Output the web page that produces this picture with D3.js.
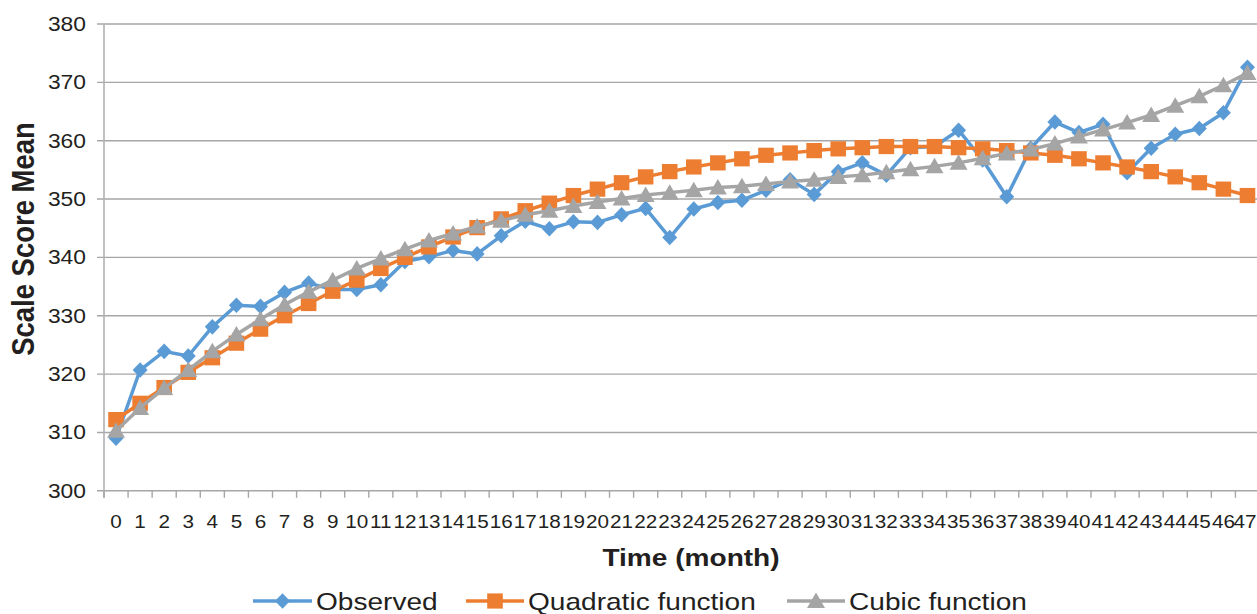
<!DOCTYPE html>
<html>
<head>
<meta charset="utf-8">
<script src="https://cdn.jsdelivr.net/npm/d3@7/dist/d3.min.js"></script>
<style>
  html, body { margin: 0; padding: 0; background: #fff; }
  svg { display: block; }
  text { font-family: "Liberation Sans", Arial, Helvetica, sans-serif; fill: #231f20; }
</style>
</head>
<body>
<svg id="chart" width="1257" height="614"></svg>
<script>
// ---- data ----
const months = [0,1,2,3,4,5,6,7,8,9,10,11,12,13,14,15,16,17,18,19,20,21,22,23,
                24,25,26,27,28,29,30,31,32,33,34,35,36,37,38,39,40,41,42,43,44,45,46,47];
const observed = [309.0,320.7,323.9,323.1,328.1,331.8,331.6,334.0,335.6,334.5,334.5,335.3,
                  339.3,340.1,341.2,340.6,343.7,346.2,344.9,346.1,346.0,347.3,348.4,343.4,
                  348.3,349.4,349.8,351.5,353.3,350.8,354.7,356.2,354.1,358.8,359.0,361.8,
                  356.7,350.4,358.7,363.2,361.4,362.8,354.5,358.7,361.1,362.1,364.8,372.6];
const quadratic = [312.2,315.0,317.7,320.3,322.8,325.3,327.7,330.0,332.1,334.2,336.1,338.1,
                   340.0,341.8,343.5,345.1,346.6,348.0,349.3,350.6,351.7,352.8,353.8,354.7,
                   355.5,356.2,356.9,357.5,357.9,358.3,358.6,358.8,359.0,359.0,359.0,358.8,
                   358.6,358.3,357.9,357.5,356.9,356.2,355.5,354.7,353.8,352.8,351.7,350.6];
const cubic = [310.3,314.2,317.6,320.7,323.9,326.8,329.4,331.9,334.1,336.1,338.1,339.8,
               341.4,342.9,344.1,345.3,346.3,347.3,348.0,348.8,349.5,350.1,350.7,351.1,
               351.5,352.0,352.2,352.6,353.0,353.3,353.8,354.1,354.6,355.1,355.6,356.2,
               357.0,357.8,358.5,359.5,360.7,361.9,363.1,364.4,366.0,367.6,369.5,371.6];
const yTicks = [300,310,320,330,340,350,360,370,380];
const seriesNames = ["Observed","Quadratic function","Cubic function"];
const axisTitleX = "Time (month)";
const axisTitleY = "Scale Score Mean";

// ---- layout ----
const SX = 1.17; // horizontal text stretch seen in the reference
const W = 1257;
const svg = d3.select("#chart");
const plotLeft = 104, plotRight = 1259.5, plotTop = 24, plotBottom = 490.8;
const x = d3.scaleBand().domain(months).range([plotLeft, plotRight]).padding(0);
const cx = d => x(d) + x.bandwidth() / 2;
const y = d3.scaleLinear().domain([300, 380]).range([plotBottom, plotTop]);
const gridColor = "#a6a6a6";

function stext(parent, px, py, str, size, anchor, weight, sx) {
  return parent.append("text")
    .attr("transform", `translate(${px},${py}) scale(${sx || SX},1)`)
    .attr("text-anchor", anchor || "middle")
    .attr("font-size", size)
    .attr("font-weight", weight || "normal")
    .text(str);
}

// gridlines + y ticks
const gy = svg.append("g");
yTicks.forEach(v => {
  gy.append("line")
    .attr("x1", plotLeft - 7).attr("x2", W)
    .attr("y1", y(v)).attr("y2", y(v))
    .attr("stroke", gridColor).attr("stroke-width", 1.4);
  stext(gy, 86, y(v) + 7, String(v), 19.5, "end");
});

// y axis line
svg.append("line")
  .attr("x1", plotLeft).attr("x2", plotLeft)
  .attr("y1", plotTop).attr("y2", plotBottom + 7)
  .attr("stroke", "#b1b1b6").attr("stroke-width", 1.6);

// x ticks at category boundaries, labels at category centres
const gx = svg.append("g");
const tickSX = 1.09;
months.forEach(m => {
  gx.append("line")
    .attr("x1", x(m)).attr("x2", x(m))
    .attr("y1", plotBottom).attr("y2", plotBottom + 7)
    .attr("stroke", gridColor).attr("stroke-width", 1.4);
  const t = stext(gx, cx(m), 527.5, String(m), 19, "middle", "normal", tickSX);
  const w = t.node().getComputedTextLength() * tickSX;
  if (cx(m) + w / 2 > W - 0.5) {
    t.attr("transform", `translate(${W - 0.5 - w / 2},527.5) scale(${tickSX},1)`);
  }
});

// axis titles
stext(svg, 691, 566, axisTitleX, 24, "middle", "bold");
svg.append("text")
  .attr("transform", `translate(22,239) scale(${SX},1) rotate(-90)`)
  .attr("text-anchor", "middle")
  .attr("dy", "0.36em")
  .attr("font-size", 27.5)
  .attr("font-weight", "bold")
  .text(axisTitleY);

// markers
const diamond = "M0,-7.8L7.5,0L0,7.8L-7.5,0Z";
const square = "M-7.8,-7.6L7.8,-7.6L7.8,7.6L-7.8,7.6Z";
const triangle = "M0,-8.5L9,7L-9,7Z";

const series = [
  { name: seriesNames[0], values: observed, color: "#5b9bd5", marker: diamond },
  { name: seriesNames[1], values: quadratic, color: "#ed7d31", marker: square },
  { name: seriesNames[2], values: cubic, color: "#a5a5a5", marker: triangle }
];

const line = d3.line().x((d, i) => cx(months[i])).y(d => y(d));

series.forEach(s => {
  const g = svg.append("g");
  g.append("path")
    .attr("d", line(s.values))
    .attr("fill", "none")
    .attr("stroke", s.color)
    .attr("stroke-width", 3.5)
    .attr("stroke-linejoin", "round");
  g.selectAll("path.m").data(s.values).enter().append("path")
    .attr("class", "m")
    .attr("d", s.marker)
    .attr("transform", (d, i) => `translate(${cx(months[i])},${y(d)})`)
    .attr("fill", s.color);
});

// legend
const legendItems = [
  { x1: 253, x2: 312, tx: 316 },
  { x1: 466, x2: 524, tx: 528 },
  { x1: 787, x2: 845, tx: 849 }
];
const ly = 601;
series.forEach((s, i) => {
  const it = legendItems[i];
  const g = svg.append("g");
  g.append("line")
    .attr("x1", it.x1).attr("x2", it.x2)
    .attr("y1", ly).attr("y2", ly)
    .attr("stroke", s.color).attr("stroke-width", 3.5);
  g.append("path")
    .attr("d", s.marker)
    .attr("transform", `translate(${(it.x1 + it.x2) / 2},${ly})`)
    .attr("fill", s.color);
  stext(g, it.tx, ly + 8.5, s.name, 24, "start");
});
</script>
</body>
</html>
